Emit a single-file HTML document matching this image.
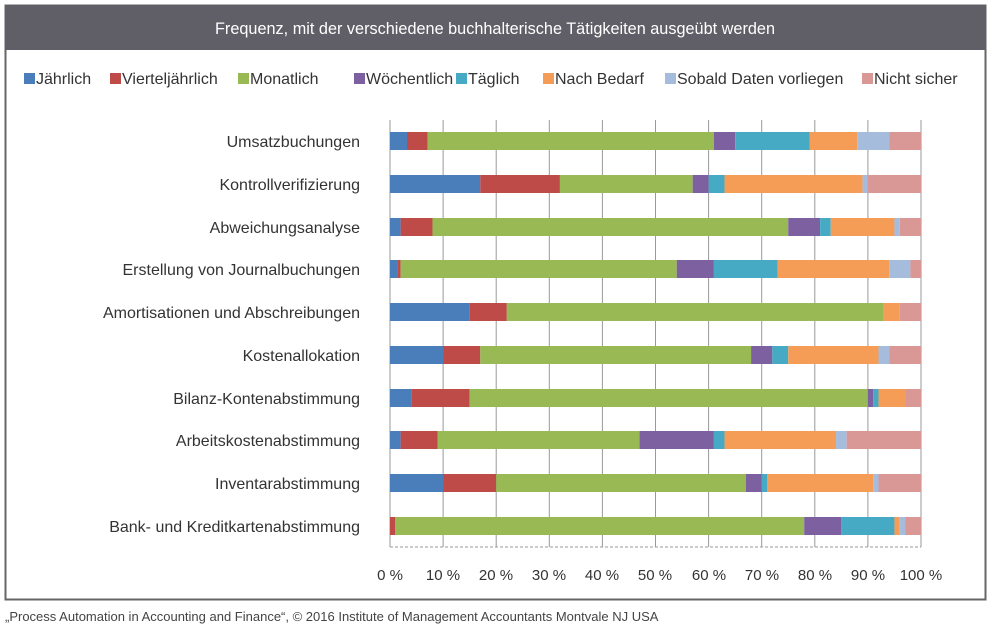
<!DOCTYPE html>
<html><head><meta charset="utf-8"><style>
html,body{margin:0;padding:0;background:#fff;width:1000px;height:636px;overflow:hidden}
svg{display:block}
text{font-family:"Liberation Sans",sans-serif}
</style></head><body>
<svg width="1000" height="636" viewBox="0 0 1000 636" xmlns="http://www.w3.org/2000/svg">
<rect x="5.5" y="5.5" width="980" height="594" fill="#fff" stroke="#666" stroke-width="2"/>
<rect x="5" y="5" width="981" height="45" fill="#605e66"/>
<text x="495" y="34" fill="#fff" font-size="17" text-anchor="middle" textLength="560" lengthAdjust="spacingAndGlyphs">Frequenz, mit der verschiedene buchhalterische Tätigkeiten ausgeübt werden</text>
<g font-size="16" fill="#333">
<rect x="24" y="73" width="11" height="11" fill="#4a7ebb"/><text x="36" y="84">Jährlich</text>
<rect x="110" y="73" width="11" height="11" fill="#be4b48"/><text x="122" y="84">Vierteljährlich</text>
<rect x="238" y="73" width="11" height="11" fill="#98b954"/><text x="250" y="84">Monatlich</text>
<rect x="354" y="73" width="11" height="11" fill="#7d60a0"/><text x="366" y="84">Wöchentlich</text>
<rect x="456" y="73" width="11" height="11" fill="#46aac5"/><text x="468" y="84">Täglich</text>
<rect x="543" y="73" width="11" height="11" fill="#f59d56"/><text x="555" y="84">Nach Bedarf</text>
<rect x="665" y="73" width="11" height="11" fill="#a5bcdd"/><text x="677" y="84">Sobald Daten vorliegen</text>
<rect x="862" y="73" width="11" height="11" fill="#d99795"/><text x="874" y="84">Nicht sicher</text>
</g>
<g stroke="#999" stroke-width="1">
<line x1="443.1" y1="120" x2="443.1" y2="547"/><line x1="496.2" y1="120" x2="496.2" y2="547"/>
<line x1="549.3" y1="120" x2="549.3" y2="547"/><line x1="602.4" y1="120" x2="602.4" y2="547"/>
<line x1="655.5" y1="120" x2="655.5" y2="547"/><line x1="708.6" y1="120" x2="708.6" y2="547"/>
<line x1="761.7" y1="120" x2="761.7" y2="547"/><line x1="814.8" y1="120" x2="814.8" y2="547"/>
<line x1="867.9" y1="120" x2="867.9" y2="547"/><line x1="921" y1="120" x2="921" y2="547"/>
<line x1="390" y1="120" x2="390" y2="547"/>
<line x1="390" y1="547" x2="921" y2="547" stroke-dasharray="3,2"/>
</g>
<g font-size="16" fill="#333" text-anchor="end">
<text x="360" y="147">Umsatzbuchungen</text>
<text x="360" y="190">Kontrollverifizierung</text>
<text x="360" y="233">Abweichungsanalyse</text>
<text x="360" y="275">Erstellung von Journalbuchungen</text>
<text x="360" y="318">Amortisationen und Abschreibungen</text>
<text x="360" y="361">Kostenallokation</text>
<text x="360" y="404">Bilanz-Kontenabstimmung</text>
<text x="360" y="446">Arbeitskostenabstimmung</text>
<text x="360" y="489">Inventarabstimmung</text>
<text x="360" y="532">Bank- und Kreditkartenabstimmung</text>
</g>
<g font-size="15" fill="#333" text-anchor="middle">
<text x="390" y="580">0 %</text><text x="443" y="580">10 %</text><text x="496" y="580">20 %</text>
<text x="549" y="580">30 %</text><text x="602" y="580">40 %</text><text x="655" y="580">50 %</text>
<text x="709" y="580">60 %</text><text x="762" y="580">70 %</text><text x="815" y="580">80 %</text>
<text x="868" y="580">90 %</text><text x="921" y="580">100 %</text>
</g>
<text x="5" y="621" font-size="13" fill="#444">„Process Automation in Accounting and Finance“, © 2016 Institute of Management Accountants Montvale NJ USA</text>
<g id="b"></g>
<script>
var C=["#4a7ebb","#be4b48","#98b954","#7d60a0","#46aac5","#f59d56","#a5bcdd","#d99795"];
var D=[[3.2,7.1,61,65,79,88,94,100],[17,32,57,60,63,89,90,100],[2,8,75,81,83,95,96,100],[1.5,2,54,61,73,94,98,100],[15,22,93,93,93,96,96,100],[10,17,68,72,75,92,94,100],[4,15,90,91,92,97,97,100],[2,9,47,61,63,84,86,100],[10,20,67,70,71,91,92,100],[0,1,78,85,95,96,97,100]];
var Y=[141,184,227,269,312,355,398,440,483,526];
var ns="http://www.w3.org/2000/svg",g=document.getElementById("b");
for(var i=0;i<10;i++){var p=0;for(var j=0;j<8;j++){var v=D[i][j];if(v>p){var r=document.createElementNS(ns,"rect");r.setAttribute("x",390+p*5.31);r.setAttribute("y",Y[i]-9);r.setAttribute("width",(v-p)*5.31);r.setAttribute("height",18);r.setAttribute("fill",C[j]);g.appendChild(r);}p=v;}}
</script>
</svg>
</body></html>
